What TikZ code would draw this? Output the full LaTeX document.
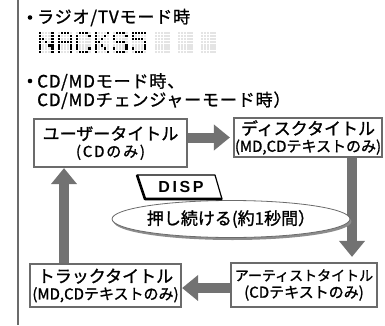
\documentclass[tikz,border=0pt]{standalone}
\usepackage{fontspec}
\newfontfamily\jp[FakeBold=1.2]{Noto Sans CJK JP}
\newfontfamily\jpwide[LetterSpace=5,FakeBold=1.2]{Noto Sans CJK JP}
\newfontfamily\keyfont[LetterSpace=16]{Liberation Sans}
\usetikzlibrary{arrows.meta,shapes.geometric,shadows}
\definecolor{framegray}{HTML}{6B6B6B}
\definecolor{arrowgray}{HTML}{727272}
\definecolor{dotoff}{HTML}{E4E4E4}
\definecolor{rimgray}{HTML}{8C8C8C}

\begin{document}
\begin{tikzpicture}[x=1pt, y=-1pt,
		titlebox/.style={draw=framegray, line width=2.2pt, fill=white, align=center, inner sep=0pt, font=\jp\fontsize{17}{17}\selectfont},
		flow/.style={draw=arrowgray, line width=10pt, -{Triangle[length=16pt,width=25pt]}},
		head/.style={font=\jpwide\fontsize{17}{16}\selectfont, inner sep=0pt}
	]
	\useasboundingbox (0,0) rectangle (385,326);

	% side rule
	\draw[framegray, line width=2pt] (18,0) -- (18,325);

	% headings
	\node[head, anchor=west] (radio) at (37,17.5) {ラジオ/TVモード時};
	\fill ([xshift=-7pt]radio.west) circle (2.3pt);
	\node[head, anchor=north west, align=left] (cdmd) at (37,73) {CD/MDモード時、\\CD/MDチェンジャーモード時）};
	\fill ([xshift=-7pt,yshift=-8pt]cdmd.north west) circle (2.3pt);

	% dot matrix display
	\foreach \xo in {39,57.5,76,94.5,113,131.5,155,178,201}
		\foreach \i in {1,...,5}
			\foreach \j in {0,...,6}
				\fill[dotoff] ({\xo+3.1*\i-3.1},{32+3.1*\j}) rectangle ++(2.2,2.2);
	\foreach \xo/\bits in {39/{{1,5},{1,5},{1,2,5},{1,3,5},{1,4,5},{1,5},{1,5}},
			57.5/{{2,3,4},{1,5},{1,5},{1,2,3,4,5},{1,5},{1,5},{1,5}},
			76/{{2,3,4},{1,5},{1},{1},{1},{1,5},{2,3,4}},
			94.5/{{1,5},{1,4},{1,3},{1,2},{1,3},{1,4},{1,5}},
			113/{{2,3,4},{1,5},{1},{2,3,4},{5},{1,5},{2,3,4}},
			131.5/{{1,2,3,4,5},{1},{1,2,3,4},{5},{5},{1,5},{2,3,4}}}
		\foreach \row [count=\j from 0] in \bits
			\foreach \i in \row
				\fill[black] ({\xo+3.1*\i-3.1},{32+3.1*\j}) rectangle ++(2.2,2.2);

	% title boxes
	\node[titlebox, minimum width=153pt, minimum height=48pt] at (110.5,143) (user) {ユーザータイトル\\{\fontsize{15}{17}\selectfont\addfontfeature{LetterSpace=12}(CDのみ)}};
	\node[titlebox, minimum width=148pt, minimum height=39pt] at (308,137.5) (disc) {ディスクタイトル\\{\fontsize{15}{17}\selectfont (MD,CDテキストのみ)}};
	\node[titlebox, minimum width=146pt, minimum height=44pt] at (304,285) (artist) {{\fontsize{14}{17}\selectfont アーティストタイトル}\\{\fontsize{15}{17}\selectfont (CDテキストのみ)}};
	\node[titlebox, minimum width=151pt, minimum height=43pt] at (105.5,285.5) (track) {トラックタイトル\\{\fontsize{15}{17}\selectfont (MD,CDテキストのみ)}};

	\draw[flow, shorten >=3pt] (user.east |- disc.west) -- (disc.west);
	\draw[flow, shorten >=5pt] ([xshift=44pt]disc.south) -- ([xshift=48pt]artist.north);
	\coordinate (back) at ([yshift=-3pt]artist.west);
	\draw[flow] (back) -- (back -| track.east);
	\draw[flow] ([xshift=-41.5pt]track.north) -- ([xshift=-46.5pt]user.south);

	% hold the key
	\node[ellipse, draw=framegray, fill=white, line width=0.8pt, minimum width=196pt, minimum height=37pt, inner sep=0pt,
		font=\jp\fontsize{17}{17}\selectfont,
		drop shadow={shadow xshift=1.5pt, shadow yshift=-2.5pt, fill=rimgray, opacity=1}] at (231,219) (hold) {押し続ける(約1秒間）};
	\draw[line width=1.2pt, fill=white, line join=round] (137,175) -- (215,175) -- (222,199) -- (145,199) -- cycle;
	\draw[line width=2.6pt, line join=round] (137,175) -- (145,199) -- (222,199);
	\node[font=\keyfont\bfseries\fontsize{16}{16}\selectfont, inner sep=0pt] at (181,187) (disp) {DISP};

\end{tikzpicture}
\end{document}
